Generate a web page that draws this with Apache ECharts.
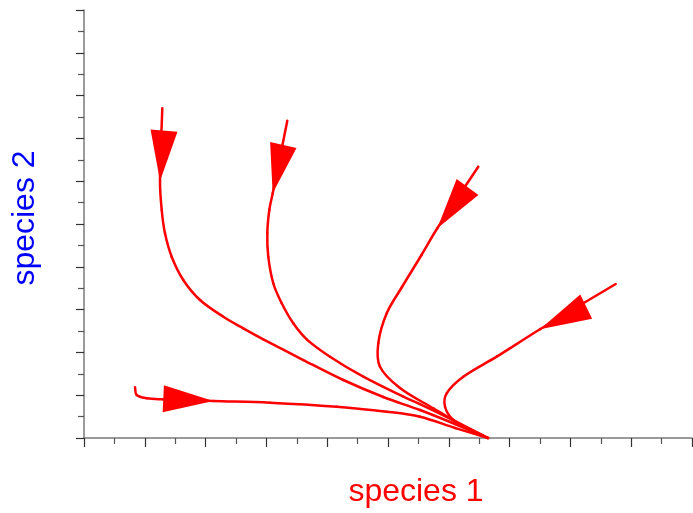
<!DOCTYPE html>
<html>
<head>
<meta charset="utf-8">
<script src="https://cdn.jsdelivr.net/npm/echarts@6/dist/echarts.min.js"></script>
<style>html,body{margin:0;padding:0;background:#fff;}#c{width:693px;height:513px;}</style>
</head>
<body>
<div id="c"></div>
<script>
// Trajectories in the (species 1, species 2) phase plane
const curveA = [[1.288,7.703],[1.250,6.005],[1.278,5.327],[1.332,4.782],[1.442,4.236],[1.633,3.692],[1.908,3.224],[2.291,2.834],[2.620,2.563],[2.949,2.306],[3.607,1.822],[4.265,1.355],[4.923,0.958],[5.526,0.654],[6.102,0.327],[6.645,0]];
const curveB = [[3.344,7.414],[3.104,5.717],[3.048,5.327],[3.015,4.783],[3.031,4.236],[3.113,3.615],[3.252,3.147],[3.442,2.680],[3.663,2.306],[4.046,1.900],[4.594,1.432],[5.252,0.965],[5.526,0.794],[6.102,0.397],[6.645,0]];
const curveC = [[6.485,6.339],[5.811,4.900],[5.551,4.276],[5.230,3.528],[4.979,2.914],[4.840,2.213],[4.868,1.666],[5.197,1.168],[5.745,0.694],[6.184,0.327],[6.645,0]];
const curveD = [[8.745,3.598],[7.500,2.540],[6.788,1.900],[6.238,1.432],[5.965,1.044],[5.938,0.731],[6.074,0.421],[6.349,0.187],[6.645,0]];
const curveE = [[0.839,1.185],[0.867,1.005],[1.031,0.928],[1.299,0.904],[2.127,0.864],[3.059,0.825],[4.156,0.731],[4.979,0.614],[5.526,0.498],[6.102,0.234],[6.645,0]];
// Arrowheads: [tipX, tipY, baseX, baseY]
const arrows = [[1.25,6.005,1.316,7.180],[3.103,5.717,3.278,6.846],[5.811,4.900,6.308,5.864],[7.5,2.540,8.260,3.068],[2.127,0.864,1.304,0.918]];
const xRange = [0, 10];
const yRange = [0, 10];
const xLabel = 'species 1';
const yLabel = 'species 2';

const chart = echarts.init(document.getElementById('c'), null, {renderer:'canvas'});
const curves = [curveA, curveB, curveC, curveD, curveE];

function unit(v){ const l = Math.sqrt(v[0]*v[0]+v[1]*v[1]) || 1; return [v[0]/l, v[1]/l]; }
function curveSeries(c){
  return {
    type:'custom', data:c, silent:true, z:2,
    encode:{x:0, y:1},
    renderItem:function(params, api){
      const i = params.dataIndex, n = c.length;
      if (i >= n-1) return null;
      const P = k => api.coord(c[Math.max(0, Math.min(n-1, k))]);
      const p0 = P(i-1), p1 = P(i), p2 = P(i+1), p3 = P(i+2);
      const t1 = unit([p2[0]-p0[0], p2[1]-p0[1]]);
      const t2 = unit([p3[0]-p1[0], p3[1]-p1[1]]);
      const d = Math.sqrt((p2[0]-p1[0])**2 + (p2[1]-p1[1])**2) / 3;
      return {type:'bezierCurve', shape:{x1:p1[0], y1:p1[1], x2:p2[0], y2:p2[1],
        cpx1:p1[0]+t1[0]*d, cpy1:p1[1]+t1[1]*d, cpx2:p2[0]-t2[0]*d, cpy2:p2[1]-t2[1]*d},
        style:{stroke:'#ff0000', lineWidth:2.5, fill:null, lineCap:'round'}};
    }
  };
}

chart.setOption({
  animation:false,
  backgroundColor:'#ffffff',
  grid:{left:84, right:1, top:10, bottom:75},
  xAxis:{type:'value', min:xRange[0], max:xRange[1], interval:1,
    axisLine:{show:true, onZero:false, lineStyle:{color:'#7a7a7a', width:1.5}},
    axisTick:{show:true, length:9, lineStyle:{color:'#333', width:1.2}},
    minorTick:{show:true, splitNumber:2, length:6, lineStyle:{color:'#555', width:1.2}},
    axisLabel:{show:false}, splitLine:{show:false}},
  yAxis:{type:'value', min:yRange[0], max:yRange[1], interval:1,
    axisLine:{show:true, onZero:false, lineStyle:{color:'#7a7a7a', width:1.5}},
    axisTick:{show:true, length:8, lineStyle:{color:'#333', width:1.2}},
    minorTick:{show:true, splitNumber:2, length:6, lineStyle:{color:'#555', width:1.2}},
    axisLabel:{show:false}, splitLine:{show:false}},
  graphic:[
    {type:'text', x:416, y:492, style:{text:xLabel, fill:'#ff0000', font:'32px "Liberation Sans", Arial, sans-serif', textAlign:'center', textVerticalAlign:'middle'}},
    {type:'text', x:25, y:218, rotation:Math.PI/2, style:{text:yLabel, fill:'#0000ff', font:'32px "Liberation Sans", Arial, sans-serif', textAlign:'center', textVerticalAlign:'middle'}}
  ],
  series: curves.map(curveSeries).concat([{
    type:'custom', data:arrows, silent:true, z:5,
    encode:{x:[0,2], y:[1,3]},
    renderItem:function(params, api){
      const tip = api.coord([api.value(0), api.value(1)]);
      const base = api.coord([api.value(2), api.value(3)]);
      const dx = tip[0]-base[0], dy = tip[1]-base[1];
      const len = Math.sqrt(dx*dx+dy*dy) || 1;
      const nx = -dy/len, ny = dx/len, half = 13.5;
      return {type:'polygon', shape:{points:[tip,[base[0]+nx*half, base[1]+ny*half],[base[0]-nx*half, base[1]-ny*half]]}, style:{fill:'#ff0000'}};
    }
  }])
});
</script>
</body>
</html>
